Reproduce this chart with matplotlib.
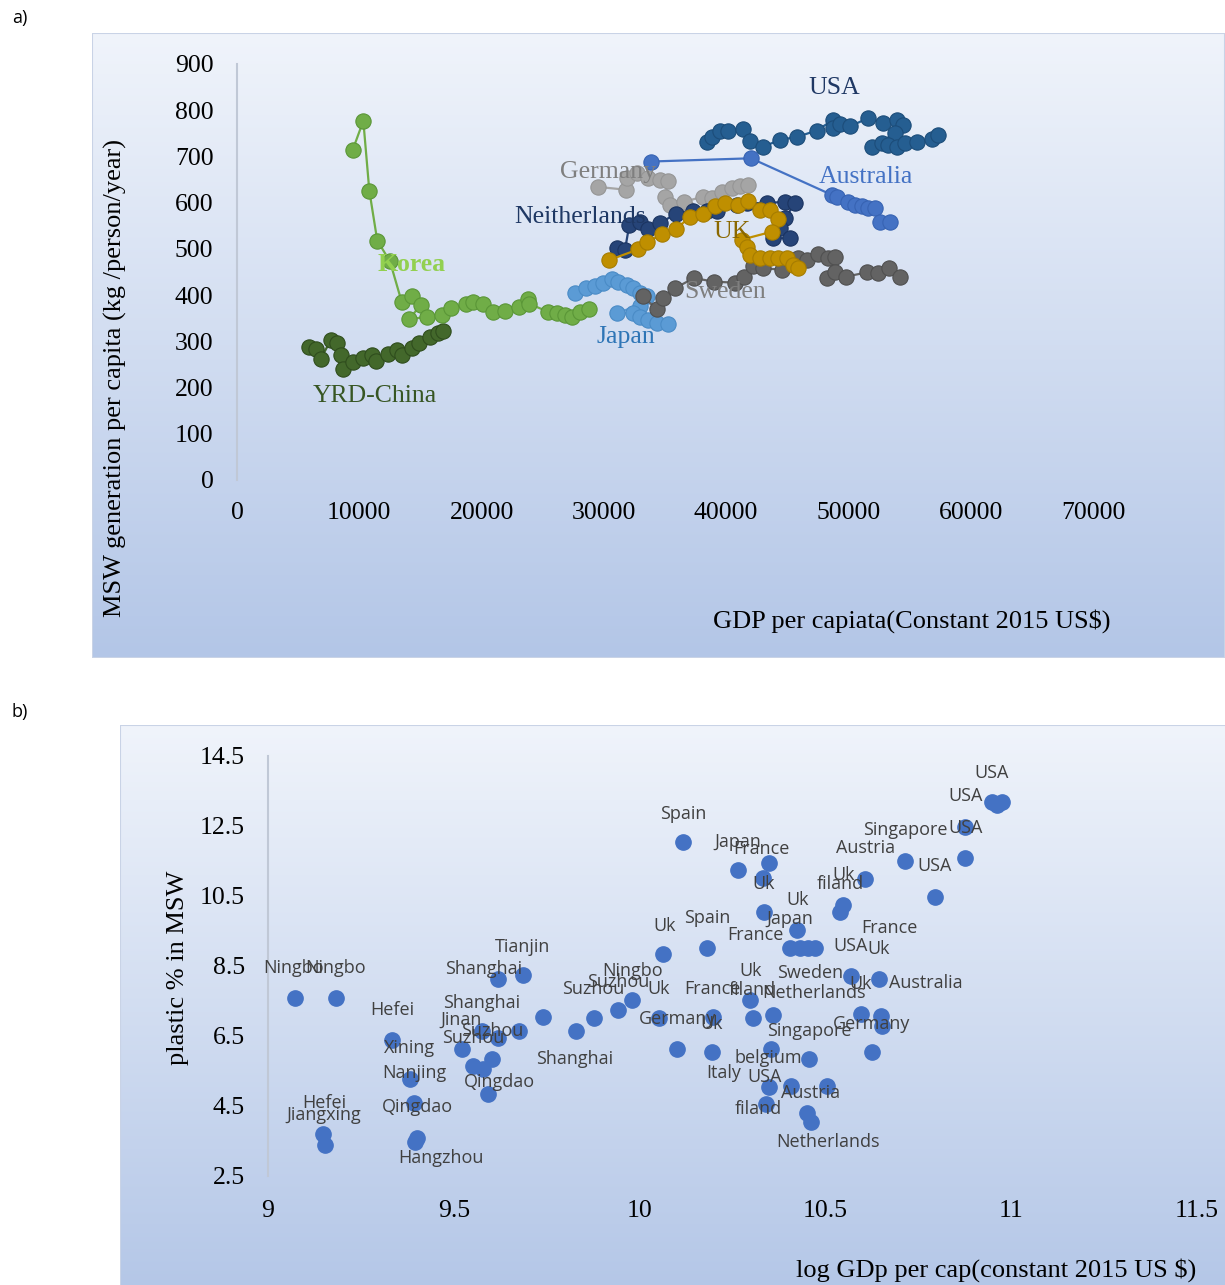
import numpy as np
import matplotlib
matplotlib.use("Agg")
import matplotlib.pyplot as plt
from matplotlib.colors import LinearSegmentedColormap
from matplotlib.patches import Rectangle

# ---------------- Panel a data (GDP per capita, MSW kg/person/year) ----------------
yrd_x = [5890, 6460, 6840, 7660, 8200, 8480, 8640, 9510, 10330, 11010, 11340, 12370,
         13060, 13460, 14280, 14910, 15780, 16460, 16870]
yrd_y = [288, 283, 262, 302, 297, 270, 240, 255, 263, 270, 258, 273, 281, 270, 285,
         297, 310, 318, 323]

korea_x = [9460, 10330, 10820, 11470, 12510, 13460, 14280, 15020, 14090, 15560, 16730,
           17500, 18700, 19270, 20140, 20910, 21910, 23080, 23770, 23900, 25450, 26140,
           26820, 27370, 28050, 28810]
korea_y = [714, 777, 626, 518, 473, 386, 399, 379, 348, 353, 357, 372, 381, 385, 380,
           364, 366, 375, 391, 381, 364, 361, 357, 353, 364, 369]

japan_x = [27640, 28540, 29270, 29950, 30640, 31180, 31870, 32410, 32950, 33500, 32950,
           31050, 32410, 32950, 33640, 34320, 35270]
japan_y = [405, 415, 420, 426, 434, 429, 422, 415, 405, 397, 377, 362, 361, 353, 346,
           340, 338]

sweden_x = [33170, 34320, 34860, 35820, 37370, 39000, 40720, 41460, 42220, 43040, 44590,
            45220, 45900, 46580, 47540, 48350, 48900, 48220, 48900, 49800, 51490, 52440,
            53340, 54210]
sweden_y = [397, 370, 393, 415, 437, 429, 427, 440, 462, 458, 455, 476, 480, 476, 489,
            480, 483, 437, 451, 440, 449, 447, 458, 440]

germany_x = [29550, 31810, 31920, 32680, 33640, 34590, 35270, 35000, 35410, 36770, 36550,
             38130, 38820, 39630, 40450, 41130, 41810]
germany_y = [634, 628, 653, 664, 653, 649, 646, 613, 595, 588, 602, 613, 610, 624, 631,
             635, 638]

neth_x = [31050, 31730, 32080, 32950, 33640, 34590, 35900, 37310, 38410, 39230, 40860,
          41680, 43310, 44810, 45630, 44810, 44400, 45220, 43860]
neth_y = [502, 498, 552, 559, 543, 556, 576, 583, 581, 581, 595, 599, 599, 602, 599,
          566, 545, 523, 523]

uk_x = [30450, 32820, 33550, 34730, 35900, 37040, 38130, 39090, 39900, 40990, 41810,
        42770, 43580, 44260, 43720, 41270, 41680, 41950, 42770, 43580, 44260, 44950,
        45500, 45900]
uk_y = [476, 499, 514, 532, 543, 569, 576, 592, 599, 595, 604, 584, 584, 564, 537, 520,
        505, 487, 480, 480, 480, 480, 465, 458]

usa_x = [38460, 38810, 39500, 40170, 41350, 41950, 43040, 44400, 45770, 47400, 48760,
         48760, 49310, 50120, 51620, 52850, 53940, 54480, 53800, 51900, 52720, 53260,
         53940, 54620, 55580, 56810, 57340]
usa_y = [732, 743, 754, 756, 759, 734, 721, 736, 742, 756, 779, 761, 771, 765, 783, 773,
         779, 768, 750, 720, 729, 725, 721, 729, 732, 737, 747]

aus_x = [33850, 42030, 48630, 49040, 49990, 50530, 51080, 51620, 52170, 52580, 53400]
aus_y = [689, 696, 617, 613, 602, 595, 592, 588, 588, 559, 559]

a_names = ["YRD-China", "Korea", "Japan", "Sweden", "Germany", "Neitherlands", "UK",
           "USA", "Australia"]
a_label_x = [11280, 14310, 31810, 39900, 30340, 28050, 40470, 48820, 51430]
a_label_y = [182, 466, 309, 407, 667, 569, 537, 848, 656]

a_xticks = [0, 10000, 20000, 30000, 40000, 50000, 60000, 70000]
a_yticks = [0, 100, 200, 300, 400, 500, 600, 700, 800, 900]

# ---------------- Panel b data (log GDP per cap, plastic %) ----------------
b_x = [9.073, 9.183, 9.333, 9.382, 9.394, 9.400, 9.395, 9.149, 9.153, 9.521, 9.552,
       9.578, 9.604, 9.593, 9.620, 9.687, 9.575, 9.620, 9.676, 9.739, 9.828, 9.876,
       9.943, 9.980, 10.053, 10.100, 10.194, 10.197, 10.297, 10.304, 10.360, 10.116,
       10.266, 10.331, 10.349, 10.335, 10.423, 10.405, 10.432, 10.454, 10.472, 10.181,
       10.064, 10.548, 10.539, 10.569, 10.948, 10.961, 10.974, 10.875, 10.877, 10.795,
       10.714, 10.607, 10.643, 10.596, 10.649, 10.652, 10.353, 10.457, 10.625, 10.349,
       10.408, 10.503, 10.339, 10.450, 10.460]
b_y = [7.58, 7.58, 6.40, 5.27, 4.59, 3.58, 3.48, 3.70, 3.39, 6.14, 5.65, 5.57, 5.85,
       4.84, 8.14, 8.23, 6.64, 6.43, 6.64, 7.03, 6.64, 7.02, 7.24, 7.52, 7.02, 6.14,
       6.03, 7.05, 7.52, 7.02, 7.11, 12.03, 11.24, 11.02, 11.43, 10.03, 9.52, 9.02,
       9.02, 9.02, 9.02, 9.02, 8.83, 10.24, 10.03, 8.22, 13.19, 13.10, 13.19, 12.48,
       11.59, 10.48, 11.50, 10.99, 8.13, 7.13, 7.08, 6.79, 6.14, 5.83, 6.03, 5.05, 5.08,
       5.08, 4.55, 4.29, 4.05]

b_labels = ["USA", "USA", "Singapore", "USA", "Austria", "USA", "Uk", "filand", "Spain",
            "Japan", "France", "Uk", "Uk", "Japan", "France", "Uk", "Spain", "France",
            "USA", "Uk", "Tianjin", "Ningbo", "Ningbo", "Shanghai", "Ningbo", "Uk",
            "Sweden", "Suzhou", "Suzhou", "Uk", "France", "filand", "Netherlands", "Uk",
            "Australia", "Hefei", "Shanghai", "Jinan", "Suzhou", "Suzhou", "Germany",
            "Uk", "Singapore", "Germany", "Xining", "Shanghai", "belgium", "Nanjing",
            "Qingdao", "Italy", "USA", "Austria", "Hefei", "Jiangxing", "Qingdao",
            "filand", "Hangzhou", "Netherlands"]
b_label_x = [10.948, 10.876, 10.714, 10.878, 10.607, 10.795, 10.550, 10.539, 10.117,
             10.265, 10.329, 10.335, 10.424, 10.405, 10.313, 10.066, 10.181, 10.671,
             10.569, 10.644, 9.686, 9.070, 9.183, 9.579, 9.980, 10.300, 10.459, 9.942,
             9.875, 10.052, 10.195, 10.302, 10.469, 10.596, 10.771, 9.334, 9.576, 9.519,
             9.603, 9.552, 10.101, 10.195, 10.456, 10.625, 9.382, 9.826, 10.346, 9.393,
             9.624, 10.227, 10.337, 10.461, 9.151, 9.151, 9.401, 10.319, 9.466, 10.507]
b_label_y = [14.02, 13.36, 12.39, 12.45, 11.87, 11.36, 11.10, 10.84, 12.84, 12.05,
             11.84, 10.84, 10.39, 9.84, 9.39, 9.64, 9.87, 9.59, 9.07, 8.99, 9.04, 8.44,
             8.44, 8.41, 8.36, 8.37, 8.30, 8.05, 7.84, 7.84, 7.84, 7.81, 7.73, 7.99, 8.01,
             7.24, 7.45, 6.96, 6.64, 6.44, 6.99, 6.84, 6.65, 6.84, 6.16, 5.84, 5.87, 5.44,
             5.19, 5.44, 5.34, 4.87, 4.59, 4.24, 4.47, 4.41, 3.01, 3.48]

b_xticks = [9, 9.5, 10, 10.5, 11, 11.5]
b_xticklabels = ["9", "9.5", "10", "10.5", "11", "11.5"]
b_yticks = [2.5, 4.5, 6.5, 8.5, 10.5, 12.5, 14.5]

# ---------------- Figure ----------------
W, H = 1225, 1285
fig = plt.figure(figsize=(W / 100, H / 100), dpi=100)
serif = "Liberation Serif"
sans = "Open Sans"


def frac(x0, y0, x1, y1):
    return [x0 / W, 1 - y1 / H, (x1 - x0) / W, (y1 - y0) / H]


cmap = LinearSegmentedColormap.from_list("g", ["#f0f4fb", "#b3c6e7"])


def background(rect, c_end=1.0):
    bax = fig.add_axes(rect, zorder=0)
    grad = np.linspace(0, c_end, 256).reshape(-1, 1)
    bax.imshow(grad, aspect="auto", cmap=cmap, vmin=0, vmax=1,
               extent=[0, 1, 0, 1], origin="upper")
    bax.add_patch(Rectangle((0, 0), 1, 1, transform=bax.transAxes, fill=False,
                            edgecolor="#c9d3e6", lw=1.5))
    bax.set_axis_off()
    return bax


background(frac(92, 33, 1225, 658))
background(frac(120, 725, 1240, 1300))

# ---------------- Panel a ----------------
axa = fig.add_axes(frac(237, 64, 1093, 480), zorder=1)
axa.patch.set_alpha(0)

series = [
    (yrd_x, yrd_y, "#43682b", "#2f4d1d", "#375623"),
    (korea_x, korea_y, "#70ad47", "#5a9637", "#92d050"),
    (japan_x, japan_y, "#5b9bd5", "#4a8bc6", "#2e75b6"),
    (sweden_x, sweden_y, "#636363", "#505050", "#7f7f7f"),
    (germany_x, germany_y, "#a5a5a5", "#959595", "#7f7f7f"),
    (neth_x, neth_y, "#264478", "#1b3461", "#1f3864"),
    (uk_x, uk_y, "#bf8f00", "#a67c00", "#8a6800"),
    (usa_x, usa_y, "#255e91", "#1c4d7a", "#1f3864"),
    (aus_x, aus_y, "#4472c4", "#3763b3", "#4472c4"),
]
for i, (xs, ys, c, ec, lc) in enumerate(series):
    axa.plot(xs, ys, "-o", color=c, lw=1.6, ms=11, mfc=c, mec=ec, mew=0.8,
             zorder=2 + i)
for i, (name, lx, ly) in enumerate(zip(a_names, a_label_x, a_label_y)):
    lc = series[i][4]
    axa.text(lx, ly, name, ha="center", va="center", fontsize=18.5, family=serif,
             color=lc, fontweight="bold" if name == "Korea" else "normal", zorder=20)

axa.set_xlim(0, 70000)
axa.set_ylim(0, 900)
axa.set_xticks(a_xticks)
axa.set_yticks(a_yticks)
axa.set_xticklabels([str(v) for v in a_xticks], family=serif, fontsize=18.5)
axa.set_yticklabels([str(v) for v in a_yticks], family=serif, fontsize=18.5)
axa.tick_params(axis="x", length=0, pad=16)
axa.tick_params(axis="y", length=0, pad=17)
for s in ["top", "right", "bottom"]:
    axa.spines[s].set_visible(False)
axa.spines["left"].set_color("#c0c8d6")
axa.spines["left"].set_linewidth(1.5)

fig.text(912 / W, 1 - 621 / H, "GDP per capiata(Constant 2015 US$)", ha="center",
         va="center", family=serif, fontsize=19)
fig.text(115 / W, 1 - 378 / H, "MSW generation per capita (kg /person/year)",
         ha="center", va="center", rotation=90, family=serif, fontsize=19)

# ---------------- Panel b ----------------
axb = fig.add_axes(frac(268, 756, 1197, 1176), zorder=1)
axb.patch.set_alpha(0)
axb.plot(b_x, b_y, "o", ls="none", color="#4472c4", ms=11, mec="#4472c4", zorder=3)
for t, lx, ly in zip(b_labels, b_label_x, b_label_y):
    axb.text(lx, ly, t, ha="center", va="center", family=sans, fontsize=13,
             color="#404040", zorder=5)
axb.set_xlim(9, 11.5)
axb.set_ylim(2.5, 14.5)
axb.set_xticks(b_xticks)
axb.set_xticklabels(b_xticklabels, family=serif, fontsize=18.5)
axb.set_yticks(b_yticks)
axb.set_yticklabels([str(v) for v in b_yticks], family=serif, fontsize=18.5)
axb.tick_params(axis="x", length=0, pad=17)
axb.tick_params(axis="y", length=0, pad=16.5)
for s in ["top", "right", "bottom"]:
    axb.spines[s].set_visible(False)
axb.spines["left"].set_color("#c0c8d6")
axb.spines["left"].set_linewidth(1.5)

fig.text(996 / W, 1 - 1270 / H, "log GDp per cap(constant 2015 US $)", ha="center",
         va="center", family=serif, fontsize=19)
fig.text(178 / W, 1 - 968 / H, "plastic % in MSW", ha="center", va="center",
         rotation=90, family=serif, fontsize=19)

fig.text(20 / W, 1 - 18 / H, "a)", ha="center", va="center", family=sans, fontsize=13)
fig.text(20 / W, 1 - 712 / H, "b)", ha="center", va="center", family=sans, fontsize=13)

fig.savefig("out.png", dpi=100)
